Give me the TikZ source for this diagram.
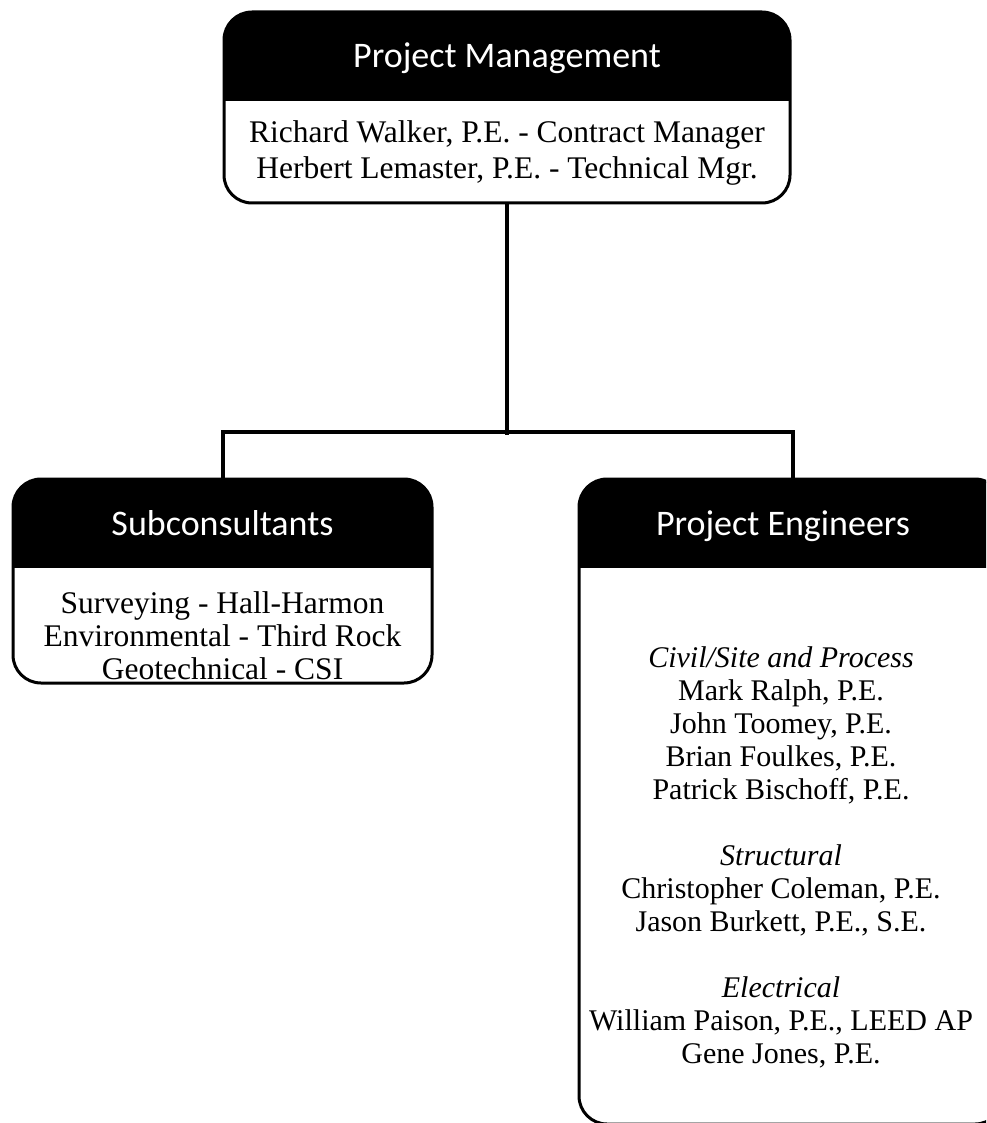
\documentclass[tikz,border=0pt]{standalone}
\usepackage{fontspec}
\setmainfont{Liberation Serif}
\newfontfamily\hdrfont{Carlito}
\usetikzlibrary{calc}
\tikzset{
  orgbox/.style={draw=black, line width=3pt, rounded corners=28pt, inner sep=0pt,
    path picture={\fill[black, sharp corners] (path picture bounding box.north west) rectangle ([yshift=-#1]path picture bounding box.north east);}},
  title/.style={text=white, font=\hdrfont\fontsize{36}{40}\selectfont, inner sep=0pt, anchor=base},
  body/.style={align=center, font=\fontsize{30}{33}\selectfont, inner sep=0pt},
  conn/.style={line width=4pt, line cap=rect}
}
\begin{document}
\begin{tikzpicture}[x=1pt, y=-1pt]
\useasboundingbox (0,0) rectangle (986,1123);
\clip (0,0) rectangle (986,1123);
\fill[white] (0,0) rectangle (986,1123);

% boxes
\node[orgbox=89pt, minimum width=566pt, minimum height=191pt] (pm) at (507,107.5) {};
\node[orgbox=89pt, minimum width=419pt, minimum height=204pt] (sub) at (222.5,581) {};
\node[orgbox=89pt, minimum width=424pt, minimum height=645pt] (eng) at (791,801.5) {};

% titles
\node[title] (pmt) at (507,68) {Project Management};
\node[title] (subt) at (222.5,535) {Subconsultants};
\node[title] (engt) at (783,535) {Project Engineers};

% body texts
\node[body, font=\fontsize{31.5}{36}\selectfont] (pmb) at (507,153) {Richard Walker, P.E. - Contract Manager\\Herbert Lemaster, P.E. - Technical Mgr.};
\node[body, font=\fontsize{31.5}{33}\selectfont] (subb) at (222.5,636) {Surveying - Hall-Harmon\\Environmental - Third Rock\\Geotechnical - CSI};
\node[body] (engb) at (781,857.5) {\textit{Civil/Site and Process}\\Mark Ralph, P.E.\\John Toomey, P.E.\\Brian Foulkes, P.E.\\Patrick Bischoff, P.E.\\[33pt]\textit{Structural}\\Christopher Coleman, P.E.\\Jason Burkett, P.E., S.E.\\[33pt]\textit{Electrical}\\William Paison, P.E., LEED AP\\Gene Jones, P.E.};

% connectors
\coordinate (bus) at (507,433);
\draw[conn] (pm.south) -- (bus);
\draw[conn] (sub.north) -- ++(0,-46) -| ([xshift=2pt]eng.north);
\end{tikzpicture}
\end{document}
